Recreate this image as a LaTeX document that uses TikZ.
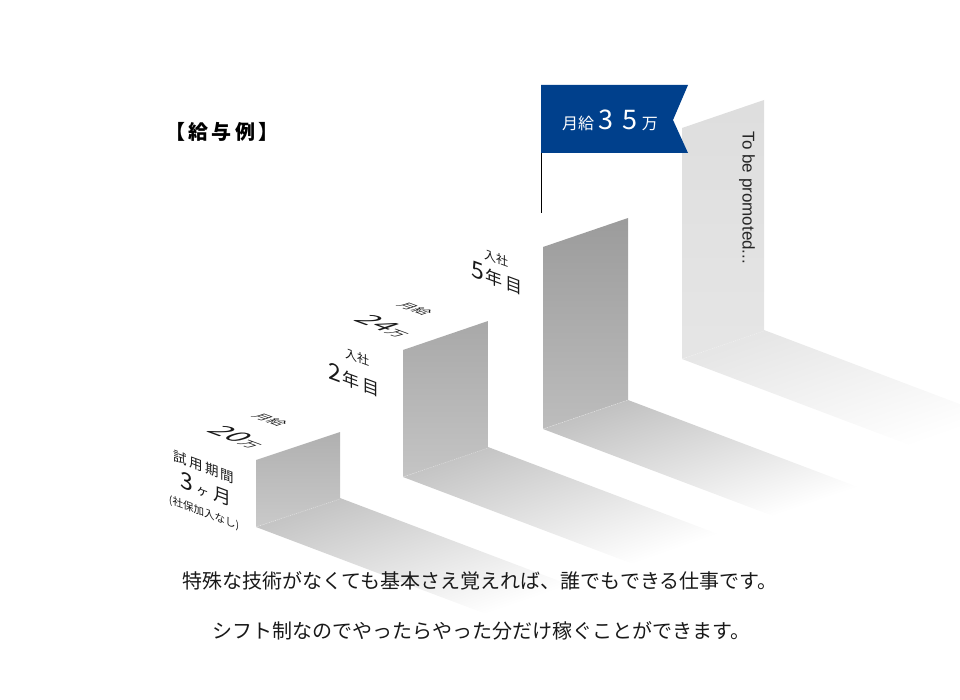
\documentclass[tikz,border=0pt]{standalone}
\usepackage{fontspec}
\setsansfont{Liberation Sans}
\newfontfamily\jp{Noto Sans CJK JP}
\newcommand{\fsz}[1]{\fontsize{#1}{#1}\selectfont}
\definecolor{flagblue}{RGB}{0,64,140}

\begin{document}
\begin{tikzpicture}[x=1pt,y=-1pt,
  sidetext/.style={yslant=-0.37, inner sep=0pt, text=black!90},
  toptext/.style={cm={1,-0.37,0.95,0.32,(0,0)}, inner sep=0pt, text=black!90},
  seam/.style={white, opacity=0.5, line width=0.5pt, dash pattern=on 1pt off 1pt}]
\useasboundingbox (0,0) rectangle (960,700);
\clip (0,0) rectangle (960,700);

% shadows on the floor
\foreach \xl/\yb/\w/\d/\col in {256/527/84/29/black!23, 403/477/85/30/black!23,
                                543/429/85/29/black!24, 682/359/82/29/black!10}{
  \begin{scope}[transform canvas={cm={\w,\d,230,-87,(\xl,\yb)}}]
    \shade[bottom color=\col, top color=white] (0pt,0pt) rectangle (1pt,1pt);
  \end{scope}
}

% front faces of the steps
\foreach \xl/\yt/\yb/\w/\d/\ctop/\cbot in {256/460/527/84/28/black!31/black!21,
    403/350/477/85/29/black!34/black!23, 543/247/429/85/29/black!39/black!26,
    682/128/359/82/28/black!13/black!10}{
  \shade[top color=\ctop, bottom color=\cbot]
    (\xl,\yt) -- ++(\w,-\d) -- (\xl+\w,\yb-\d) -- (\xl,\yb) -- cycle;
  \draw[seam] (\xl,\yb) -- ++(\w,-\d);
}

% flag
\fill[flagblue] (541,85) -- (688,85) -- (673,120) -- (688,153) -- (541,153) -- cycle;
\coordinate (poletop) at (541.5,153);
\coordinate (polefoot) at (541.5,213);
\draw[line width=1.2pt] (poletop) -- (polefoot);
\node[text=white, font=\jp] (flagtxt) at (610,120)
  {{\fsz{16}月給}{\fsz{27}\,3\,\,5\,}{\fsz{16}万}};

% heading and side note
\node[font={\jp\bfseries\fsz{20}}] (heading) at (222,132) {【\,給\,与\,例\,】};
\node[rotate=-90, font={\sffamily\fsz{17}}, text=black!85] (promo) at (747,198) {To be promoted...};

% step 1
\node[toptext, font={\jp\fsz{14}}] (pay1a) at (270,420) {月給};
\node[toptext, font=\jp] (pay1b) at (238,437) {{\fsz{28}20}{\fsz{15}万}};
\node[sidetext, font={\jp\fsz{13.5}}] (trial) at (204,467) {試\,用\,期\,間};
\node[sidetext, font=\jp] (trialspan) at (206,489) {{\fsz{23}3}\,\,{\fsz{13}ヶ}\,\,{\fsz{18}月}};
\node[sidetext, font={\jp\fsz{10.5}}] (trialnote) at (204,513) {(社保加入なし)};

% step 2
\node[toptext, font={\jp\fsz{14}}] (pay2a) at (415,309) {月給};
\node[toptext, font=\jp] (pay2b) at (385,326) {{\fsz{28}24}{\fsz{15}万}};
\node[sidetext, font={\jp\fsz{12}}] (join2a) at (357,357) {入社};
\node[sidetext, font=\jp] (join2b) at (354,380) {{\fsz{23}2}\,{\fsz{17}年\,目}};

% step 3
\node[sidetext, font={\jp\fsz{12}}] (join5a) at (496,258) {入社};
\node[sidetext, font=\jp] (join5b) at (497,278) {{\fsz{23}5}\,{\fsz{17}年\,目}};

% bottom lines
\node[font={\jp\fsz{20}}, text=black!90] (note1) at (480,581) {特殊な技術がなくても基本さえ覚えれば、誰でもできる仕事です。};
\node[font={\jp\fsz{20}}, text=black!90] (note2) at (481,631) {シフト制なのでやったらやった分だけ稼ぐことができます。};
\end{tikzpicture}
\end{document}
